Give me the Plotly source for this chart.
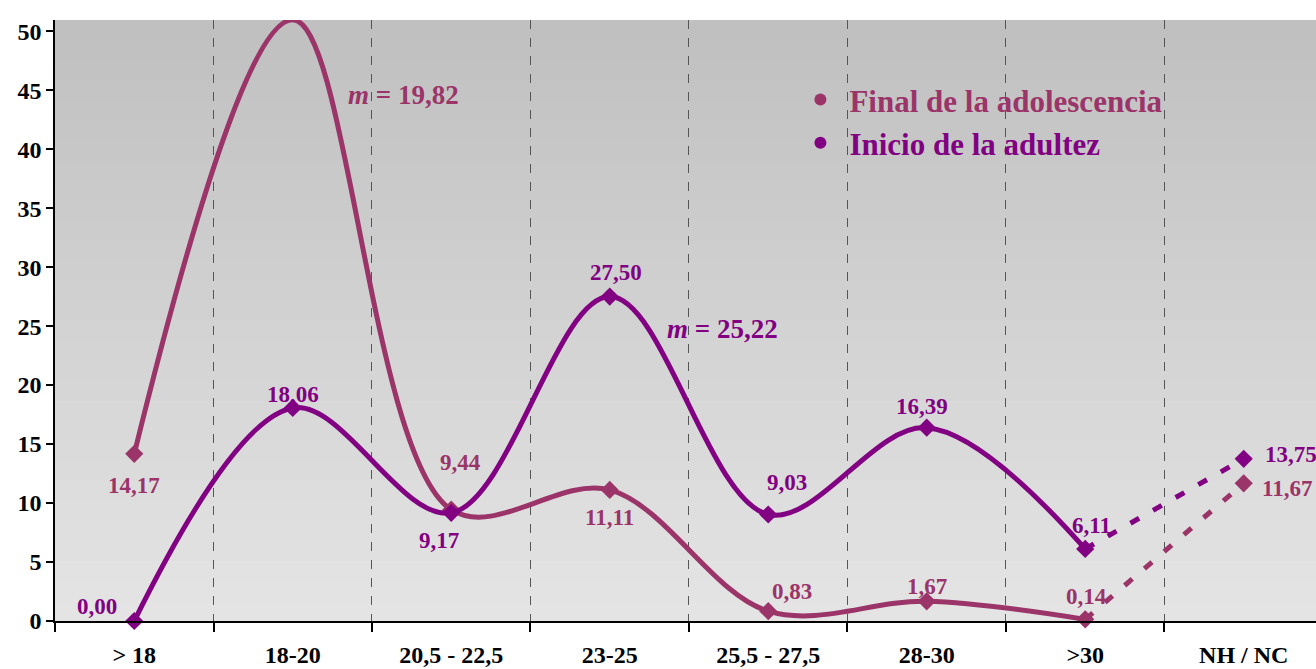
import plotly.graph_objects as go

# ---- data ----
categories = ["> 18", "18-20", "20,5 - 22,5", "23-25", "25,5 - 27,5", "28-30", ">30", "NH / NC"]
final_adolescencia = [14.17, 50.97, 9.44, 11.11, 0.83, 1.67, 0.14, 11.67]
inicio_adultez = [0.00, 18.06, 9.17, 27.50, 9.03, 16.39, 6.11, 13.75]
series_names = ["Final de la adolescencia", "Inicio de la adultez"]
media_final = 19.82
media_inicio = 25.22
y_ticks = list(range(0, 51, 5))

# ---- styling ----
FONT = "Liberation Serif, Times New Roman, serif"
C_FINAL = "#9B3468"
C_INICIO = "#820082"

# label offsets in pixels (dx, dy) for each point
off_final = [(0, -32), (0, -54), (9, 47), (0, -28), (24, 20), (0, 15), (1, 23), (43, -5)]
off_inicio = [(-37, 15), (0, 13), (-12, -28), (6, 24), (19, 32), (-5, 21), (6, 23), (47, 4)]

xs = list(range(len(categories)))
fig = go.Figure()


def add_series(vals, name, color):
    n = len(vals)
    # smooth solid part across the age ranges
    fig.add_trace(go.Scatter(
        x=xs[:n - 1], y=vals[:n - 1], mode="lines+markers",
        line=dict(color=color, width=5, shape="spline", smoothing=1.0),
        marker=dict(symbol="diamond", size=14, color=color),
        showlegend=False, hoverinfo="skip", cliponaxis=False))
    # dashed link to the NH / NC column
    fig.add_trace(go.Scatter(
        x=xs[n - 2:], y=vals[n - 2:], mode="lines",
        line=dict(color=color, width=5, dash="10px,16px"),
        showlegend=False, hoverinfo="skip", cliponaxis=False))
    fig.add_trace(go.Scatter(
        x=[xs[-1]], y=[vals[-1]], mode="markers",
        marker=dict(symbol="diamond", size=14, color=color),
        showlegend=False, hoverinfo="skip", cliponaxis=False))
    # legend entry (text coloured like its series)
    fig.add_trace(go.Scatter(
        x=[None], y=[None], mode="markers",
        name=f"<span style='color:{color}'>{name}</span>",
        marker=dict(symbol="circle", size=16, color=color)))


add_series(final_adolescencia, series_names[0], C_FINAL)
add_series(inicio_adultez, series_names[1], C_INICIO)


def fmt(v):
    return f"{v:.2f}".replace(".", ",")


annotations = []
for vals, offs, color in ((final_adolescencia, off_final, C_FINAL),
                          (inicio_adultez, off_inicio, C_INICIO)):
    for x, v, (dx, dy) in zip(xs, vals, offs):
        annotations.append(dict(
            x=x, y=v, xref="x", yref="y", text=f"<b>{fmt(v)}</b>", showarrow=False,
            xshift=dx, yshift=dy, xanchor="center", yanchor="middle",
            font=dict(family=FONT, size=23, color=color)))

annotations.append(dict(
    x=1.70, y=44.6, xref="x", yref="y", showarrow=False,
    text=f"<b><i>m</i> = {fmt(media_final)}</b>", xanchor="center", yanchor="middle",
    font=dict(family=FONT, size=27, color=C_FINAL)))
annotations.append(dict(
    x=3.71, y=24.75, xref="x", yref="y", showarrow=False,
    text=f"<b><i>m</i> = {fmt(media_inicio)}</b>", xanchor="center", yanchor="middle",
    font=dict(family=FONT, size=27, color=C_INICIO)))

# vertical grey gradient behind the plotting area
shapes = []
n_bands = 30
top, bot = (192, 192, 192), (228, 228, 228)
for i in range(n_bands):
    t = i / (n_bands - 1)
    c = tuple(round(top[k] + (bot[k] - top[k]) * t) for k in range(3))
    shapes.append(dict(
        type="rect", xref="paper", yref="paper",
        x0=0, x1=1, y0=max(0, 1 - (i + 1) / n_bands - 0.004), y1=1 - i / n_bands,
        fillcolor=f"rgb{c}", line=dict(width=0), layer="below"))

fig.update_layout(
    width=1316, height=669,
    margin=dict(l=55, r=0, t=20, b=48),
    paper_bgcolor="white", plot_bgcolor="rgba(0,0,0,0)",
    font=dict(family=FONT, color="black"),
    shapes=shapes, annotations=annotations,
    showlegend=True,
    legend=dict(
        x=0.584, y=0.912, xanchor="left", yanchor="top",
        bgcolor="rgba(0,0,0,0)", borderwidth=0,
        font=dict(family=FONT, size=31, color="black", weight="bold"),
        tracegroupgap=0, itemsizing="constant", itemwidth=48),
    xaxis=dict(
        type="linear", range=[-0.5, 7.456],
        tickmode="array", tickvals=xs, ticktext=[f"<b>{c}</b>" for c in categories],
        ticks="", showgrid=False, zeroline=False,
        showline=True, linecolor="black", linewidth=2,
        tickfont=dict(family=FONT, size=24, color="black"),
        ticklabelstandoff=11,
        minor=dict(tickmode="array", tickvals=[i + 0.5 for i in range(-1, 8)],
                   ticks="outside", ticklen=9, tickwidth=1.5, tickcolor="black",
                   showgrid=True, gridcolor="#555555", gridwidth=1, griddash="dash")),
    yaxis=dict(
        range=[0, 50.95], tickvals=y_ticks, ticktext=[f"<b>{v}</b>" for v in y_ticks],
        ticks="outside", ticklen=7, tickwidth=1.5, tickcolor="black",
        showgrid=False, zeroline=False,
        showline=True, linecolor="black", linewidth=1.5,
        tickfont=dict(family=FONT, size=24, color="black")),
)

fig.write_html("out.html")
